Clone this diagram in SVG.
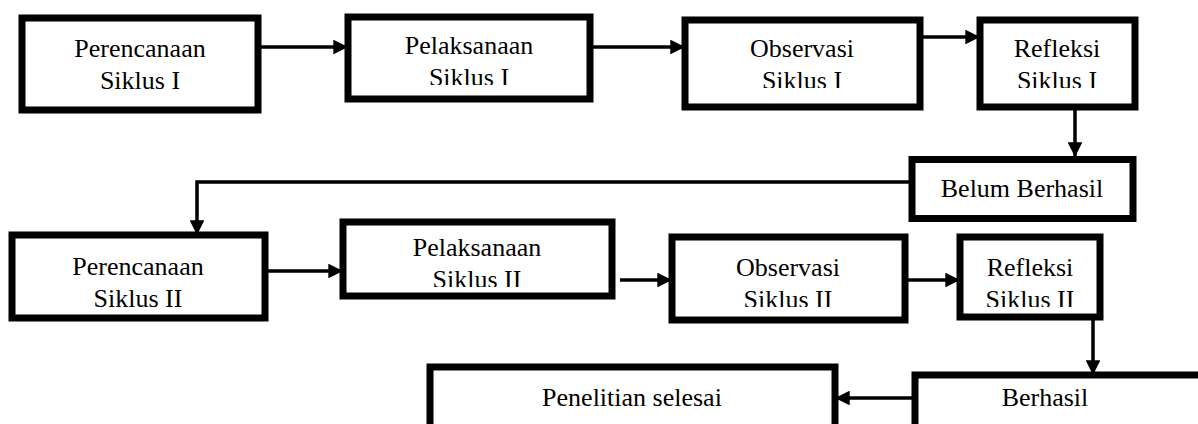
<svg xmlns="http://www.w3.org/2000/svg" width="1198" height="424" viewBox="0 0 1198 424">
<style>
.box{fill:#fff;stroke:#000;stroke-width:7}
.t{font-family:"Liberation Serif","Times New Roman",serif;font-size:26px;fill:#000;text-anchor:middle}
.c{fill:none;stroke:#000;stroke-width:3.5}
</style>
<defs>
<marker id="ah" viewBox="0 0 10 10" refX="10" refY="5" markerWidth="4.2" markerHeight="4.2" orient="auto" markerUnits="strokeWidth">
<path d="M0,0 L10,5 L0,10 z" fill="#000"/>
</marker>
<clipPath id="c2"><rect x="348" y="17" width="242" height="68"/></clipPath>
<clipPath id="c3"><rect x="685" y="20" width="235" height="68"/></clipPath>
<clipPath id="c4"><rect x="980" y="20" width="155" height="68"/></clipPath>
<clipPath id="c6"><rect x="343" y="222" width="269" height="65"/></clipPath>
<clipPath id="c7"><rect x="672" y="237" width="233" height="70"/></clipPath>
<clipPath id="c8"><rect x="960" y="237" width="140" height="70"/></clipPath>
</defs>
<g id="connectors">
<line class="c" x1="258" y1="47" x2="348" y2="47" marker-end="url(#ah)"/>
<line class="c" x1="590" y1="47" x2="685" y2="47" marker-end="url(#ah)"/>
<line class="c" x1="920" y1="37" x2="980" y2="37" marker-end="url(#ah)"/>
<line class="c" x1="1075" y1="107" x2="1075" y2="157" marker-end="url(#ah)"/>
<polyline class="c" points="912,182 197,182 197,235" marker-end="url(#ah)"/>
<line class="c" x1="265" y1="271" x2="343" y2="271" marker-end="url(#ah)"/>
<line class="c" x1="620" y1="280" x2="672" y2="280" marker-end="url(#ah)"/>
<line class="c" x1="905" y1="280" x2="960" y2="280" marker-end="url(#ah)"/>
<line class="c" x1="1093" y1="317" x2="1093" y2="375" marker-end="url(#ah)"/>
<line class="c" x1="915" y1="398" x2="835" y2="398" marker-end="url(#ah)"/>
</g>
<g id="n1"><rect class="box" x="22" y="18" width="236" height="92"/><text class="t" x="140" y="57">Perencanaan</text><text class="t" x="140" y="89">Siklus I</text></g>
<g id="n2"><rect class="box" x="348" y="17" width="242" height="82"/><g clip-path="url(#c2)"><text class="t" x="469" y="54">Pelaksanaan</text><text class="t" x="469" y="86">Siklus I</text></g></g>
<g id="n3"><rect class="box" x="685" y="20" width="235" height="87"/><g clip-path="url(#c3)"><text class="t" x="802" y="57">Observasi</text><text class="t" x="802" y="89">Siklus I</text></g></g>
<g id="n4"><rect class="box" x="980" y="20" width="155" height="87"/><g clip-path="url(#c4)"><text class="t" x="1057" y="57">Refleksi</text><text class="t" x="1057" y="89">Siklus I</text></g></g>
<g id="n5"><rect class="box" x="912" y="159.5" width="221" height="59"/><text class="t" x="1022" y="197">Belum Berhasil</text></g>
<g id="n6"><rect class="box" x="12" y="235" width="253" height="83"/><text class="t" x="138" y="275">Perencanaan</text><text class="t" x="138" y="307">Siklus II</text></g>
<g id="n7"><rect class="box" x="343" y="222" width="269" height="74"/><g clip-path="url(#c6)"><text class="t" x="477" y="256">Pelaksanaan</text><text class="t" x="477" y="288">Siklus II</text></g></g>
<g id="n8"><rect class="box" x="672" y="237" width="233" height="83"/><g clip-path="url(#c7)"><text class="t" x="788" y="276">Observasi</text><text class="t" x="788" y="308">Siklus II</text></g></g>
<g id="n9"><rect class="box" x="960" y="237" width="140" height="80"/><g clip-path="url(#c8)"><text class="t" x="1030" y="276">Refleksi</text><text class="t" x="1030" y="308">Siklus II</text></g></g>
<g id="n10"><rect class="box" x="915" y="375" width="300" height="70"/><text class="t" x="1045" y="406">Berhasil</text></g>
<g id="n11"><rect class="box" x="430" y="367" width="405" height="70"/><text class="t" x="632" y="406">Penelitian selesai</text></g>
</svg>
